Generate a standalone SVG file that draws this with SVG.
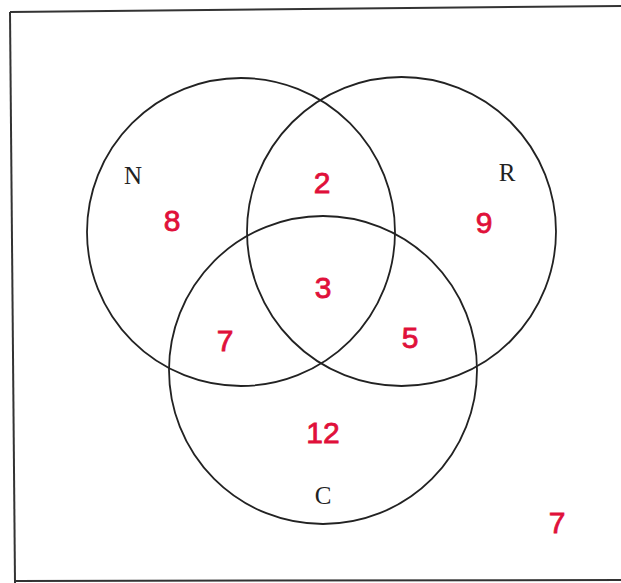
<svg xmlns="http://www.w3.org/2000/svg" width="621" height="583" viewBox="0 0 621 583">
<style>
.frame{stroke:#333;stroke-width:2;fill:none}
.set{fill:none;stroke:#222;stroke-width:1.8}
.lbl{font-family:"Liberation Serif",serif;font-size:25px;fill:#222;text-anchor:middle}
.num{font-family:"Liberation Sans",sans-serif;font-size:30px;fill:#e0103a;stroke:#e0103a;stroke-width:0.8;text-anchor:middle}
</style>
<rect width="621" height="583" fill="#fff"/>
<g id="frame">
<line class="frame" x1="10" y1="12" x2="621" y2="6"/>
<line class="frame" x1="10" y1="12" x2="15" y2="583"/>
<line class="frame" x1="15" y1="581" x2="621" y2="580"/>
</g>
<g id="setN"><circle class="set" cx="241" cy="232" r="154"/><text class="lbl" x="133" y="184">N</text></g>
<g id="setR"><circle class="set" cx="401.5" cy="231.5" r="154.5"/><text class="lbl" x="507" y="181">R</text></g>
<g id="setC"><circle class="set" cx="323" cy="370" r="154"/><text class="lbl" x="323" y="504">C</text></g>
<g id="counts">
<text class="num" x="172" y="231">8</text>
<text class="num" x="322" y="193">2</text>
<text class="num" x="484" y="233">9</text>
<text class="num" x="323" y="298">3</text>
<text class="num" x="225" y="351">7</text>
<text class="num" x="410" y="348">5</text>
<text class="num" x="323" y="443">12</text>
<text class="num" x="557" y="533">7</text>
</g>
</svg>
